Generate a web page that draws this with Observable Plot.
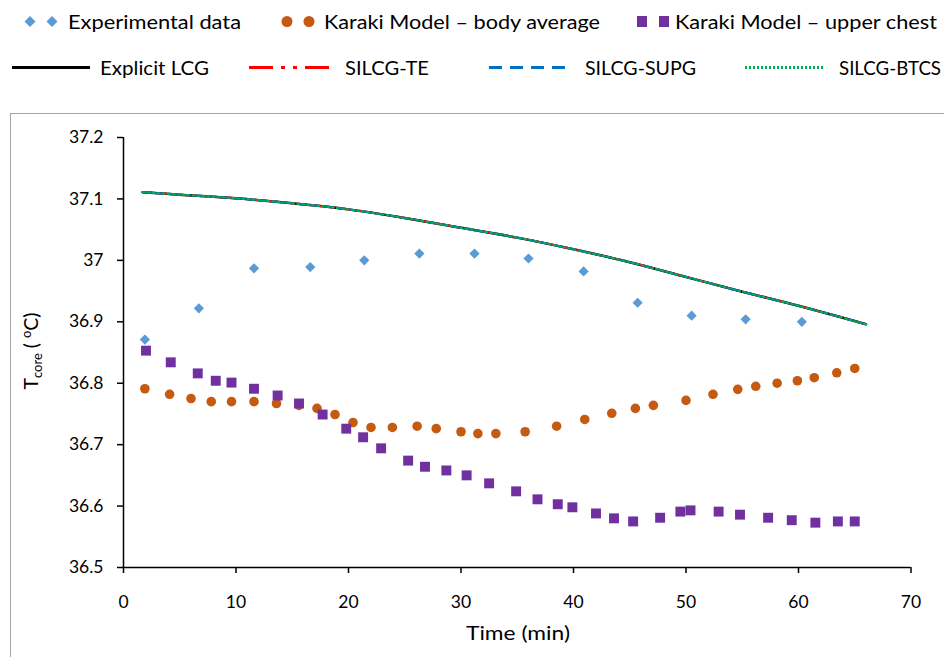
<!DOCTYPE html>
<html>
<head>
<meta charset="utf-8">
<script src="https://cdn.jsdelivr.net/npm/d3@7"></script>
<script src="https://cdn.jsdelivr.net/npm/@observablehq/plot@0.6"></script>
<style>
  html, body { margin: 0; padding: 0; background: #fff; }
  body { width: 944px; height: 657px; overflow: hidden; position: relative; font-family: Lato, "Open Sans", sans-serif; color: #000; }
  #box { position: absolute; left: 10px; top: 113px; width: 960px; height: 600px; border: 1px solid #a6a6a6; box-sizing: border-box; }
  #chart { position: absolute; left: 11px; top: 114px; }
</style>
</head>
<body>
<div id="box"></div>
<svg id="legendsvg" width="944" height="110" style="position:absolute;left:0;top:0;font-family:Lato, 'Open Sans', sans-serif"></svg>
<div id="chart"></div>
<script>
// ---- data ----
const xTicks = [0, 10, 20, 30, 40, 50, 60, 70];
const yTicks = [36.5, 36.6, 36.7, 36.8, 36.9, 37.0, 37.1, 37.2];

const expTime = [1.9, 6.7, 11.6, 16.6, 21.4, 26.3, 31.2, 36.0, 40.9, 45.7, 50.5, 55.3, 60.3];
const expTemp = [36.871, 36.922, 36.987, 36.989, 37.000, 37.011, 37.011, 37.003, 36.982, 36.931, 36.910, 36.904, 36.900];

const bodyTime = [1.9, 4.1, 6.0, 7.8, 9.6, 11.6, 13.6, 15.6, 17.2, 18.8, 20.4, 22.0, 23.9, 26.1, 27.8, 30.0, 31.5, 33.1, 35.7, 38.5, 41.0, 43.4, 45.5, 47.1, 50.0, 52.4, 54.6, 56.2, 58.1, 59.9, 61.4, 63.4, 65.0];
const bodyTemp = [36.791, 36.782, 36.775, 36.770, 36.770, 36.770, 36.767, 36.764, 36.759, 36.749, 36.736, 36.728, 36.728, 36.730, 36.726, 36.721, 36.718, 36.718, 36.721, 36.730, 36.741, 36.751, 36.759, 36.764, 36.772, 36.782, 36.790, 36.795, 36.800, 36.804, 36.809, 36.817, 36.824];

const chestTime = [2.0, 4.2, 6.6, 8.2, 9.6, 11.6, 13.7, 15.6, 17.7, 19.8, 21.3, 22.9, 25.3, 26.8, 28.7, 30.5, 32.5, 34.9, 36.8, 38.6, 39.9, 42.0, 43.6, 45.3, 47.7, 49.5, 50.4, 52.9, 54.8, 57.3, 59.4, 61.5, 63.5, 65.0];
const chestTemp = [36.853, 36.834, 36.816, 36.804, 36.801, 36.791, 36.780, 36.767, 36.749, 36.726, 36.712, 36.694, 36.674, 36.664, 36.658, 36.650, 36.637, 36.624, 36.611, 36.603, 36.598, 36.588, 36.580, 36.575, 36.581, 36.591, 36.593, 36.591, 36.586, 36.581, 36.577, 36.573, 36.575, 36.575];

const simTime = [1.7, 5, 10, 15, 20, 25, 30, 35, 40, 45, 50, 55, 60, 66];
const explicitLCG = [37.111, 37.107, 37.101, 37.093, 37.083, 37.069, 37.053, 37.037, 37.018, 36.997, 36.973, 36.949, 36.926, 36.896];
const silcgTE     = [37.111, 37.107, 37.101, 37.093, 37.083, 37.069, 37.053, 37.037, 37.018, 36.997, 36.973, 36.949, 36.926, 36.896];
const silcgSUPG   = [37.111, 37.107, 37.101, 37.093, 37.083, 37.069, 37.053, 37.037, 37.018, 36.997, 36.973, 36.949, 36.926, 36.896];
const silcgBTCS   = [37.111, 37.107, 37.101, 37.093, 37.083, 37.069, 37.053, 37.037, 37.018, 36.997, 36.973, 36.949, 36.926, 36.896];

const seriesNames = ["Experimental data", "Karaki Model \u2013 body average", "Karaki Model \u2013 upper chest",
                     "Explicit LCG", "SILCG-TE", "SILCG-SUPG", "SILCG-BTCS"];
const xTitle = "Time (min)";

// ---- tables ----
const exp = expTime.map((t, i) => ({t, v: expTemp[i]}));
const body = bodyTime.map((t, i) => ({t, v: bodyTemp[i]}));
const chest = chestTime.map((t, i) => ({t, v: chestTemp[i]}));
const mk = arr => simTime.map((t, i) => ({t, v: arr[i]}));

const cBlue = "#5B9BD5", cOrange = "#C55A11", cPurple = "#7030A0";

const chart = Plot.plot({
  width: 933,
  height: 543,
  marginLeft: 112,
  marginRight: 33.5,
  marginTop: 23,
  marginBottom: 90,
  style: {fontFamily: "Lato, 'Open Sans', sans-serif", fontSize: "17.5px", color: "#000", background: "transparent", overflow: "visible"},
  x: {domain: [0, 70], ticks: xTicks, tickSize: 6, tickPadding: 22, label: null},
  y: {domain: [36.5, 37.2], ticks: yTicks, tickSize: 6, tickPadding: 14, tickFormat: d => String(+d.toFixed(1)), label: null},
  marks: [
    Plot.ruleX([0], {stroke: "#000", strokeWidth: 1.5}),
    Plot.ruleY([36.5], {stroke: "#000", strokeWidth: 1.5}),
    Plot.dot(exp, {x: "t", y: "v", symbol: "diamond2", r: 4.6, fill: cBlue, stroke: "none"}),
    Plot.dot(body, {x: "t", y: "v", symbol: "circle", r: 4.8, fill: cOrange, stroke: "none"}),
    Plot.dot(chest, {x: "t", y: "v", symbol: "square", r: 5.6, fill: cPurple, stroke: "none"}),
    Plot.line(mk(explicitLCG), {x: "t", y: "v", stroke: "#000", strokeWidth: 2.5, curve: "catmull-rom"}),
    Plot.line(mk(silcgTE), {x: "t", y: "v", stroke: "#FF0000", strokeWidth: 2.2, strokeDasharray: "12,4,2,4,2,4", curve: "catmull-rom"}),
    Plot.line(mk(silcgSUPG), {x: "t", y: "v", stroke: "#0070C0", strokeWidth: 2.2, strokeDasharray: "8,5", curve: "catmull-rom"}),
    Plot.line(mk(silcgBTCS), {x: "t", y: "v", stroke: "#00B050", strokeWidth: 2, strokeDasharray: "2,3", curve: "catmull-rom"})
  ]
});
chart.querySelectorAll("[aria-label='x-axis'] line, [aria-label='y-axis'] line, [aria-label='x-axis tick'] path, [aria-label='y-axis tick'] path").forEach(e => { e.setAttribute("stroke", "#000"); e.setAttribute("stroke-width", "1.5"); });
document.getElementById("chart").appendChild(chart);

const svg = d3.select(chart.tagName.toLowerCase() === "svg" ? chart : chart.querySelector("svg"));
// y axis title
const yl = svg.append("text")
  .attr("transform", "translate(26.5,237) rotate(-90)")
  .attr("text-anchor", "middle")
  .attr("font-size", 19.5)
  .attr("fill", "#000");
yl.append("tspan").text("T");
yl.append("tspan").attr("font-size", 13).attr("dy", 4).text("core");
yl.append("tspan").attr("dy", -4).text(" ( ");
yl.append("tspan").attr("font-size", 13).attr("dy", -7).text("o");
yl.append("tspan").attr("dy", 7).text("C)");
// x axis title
svg.append("text")
  .attr("x", 507).attr("y", 519).attr("dy", "0.35em")
  .attr("text-anchor", "middle").attr("font-size", 19).attr("fill", "#000")
  .attr("textLength", 104).attr("lengthAdjust", "spacingAndGlyphs")
  .text(xTitle);

// ---- legend ----
const lg = d3.select("#legendsvg");
function label(text, x, y, w) {
  lg.append("text").attr("x", x).attr("y", y).attr("dy", "0.36em")
    .attr("font-size", 19.5).attr("fill", "#000")
    .attr("textLength", w).attr("lengthAdjust", "spacingAndGlyphs")
    .text(text);
}
const r1 = 21.5, r2 = 67.5;
[30, 52].forEach(cx => lg.append("path").attr("d", `M${cx},${r1-5.5}L${cx+5.5},${r1}L${cx},${r1+5.5}L${cx-5.5},${r1}Z`).attr("fill", cBlue));
label(seriesNames[0], 68, r1, 173);
[287, 309].forEach(cx => lg.append("circle").attr("cx", cx).attr("cy", r1).attr("r", 5.5).attr("fill", cOrange));
label(seriesNames[1], 324, r1, 276);
[642, 664].forEach(cx => lg.append("rect").attr("x", cx - 5).attr("y", r1 - 5.5).attr("width", 10).attr("height", 11).attr("fill", cPurple));
label(seriesNames[2], 675, r1, 262);

lg.append("line").attr("x1", 12).attr("x2", 90).attr("y1", r2).attr("y2", r2).attr("stroke", "#000").attr("stroke-width", 3);
label(seriesNames[3], 100, r2, 109);
lg.append("line").attr("x1", 249).attr("x2", 331).attr("y1", r2).attr("y2", r2).attr("stroke", "#FF0000").attr("stroke-width", 3).attr("stroke-dasharray", "24,8,4,8,4,8");
label(seriesNames[4], 345, r2, 84);
lg.append("line").attr("x1", 489).attr("x2", 568).attr("y1", r2).attr("y2", r2).attr("stroke", "#0070C0").attr("stroke-width", 3).attr("stroke-dasharray", "13,8");
label(seriesNames[5], 585, r2, 111);
lg.append("line").attr("x1", 745).attr("x2", 824).attr("y1", r2).attr("y2", r2).attr("stroke", "#00B050").attr("stroke-width", 3).attr("stroke-dasharray", "2,2");
label(seriesNames[6], 839, r2, 102);
</script>
</body>
</html>
